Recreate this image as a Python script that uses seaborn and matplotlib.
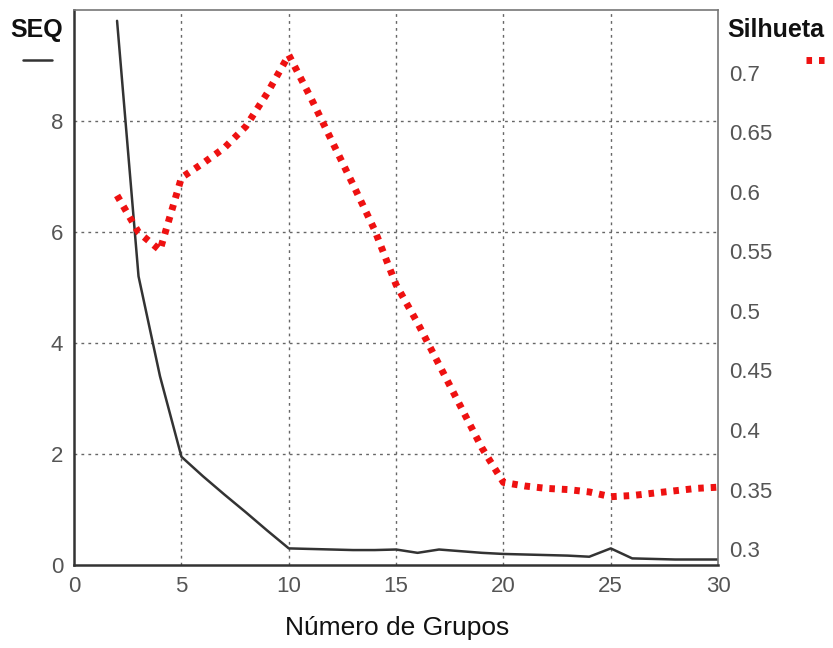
import numpy as np
import pandas as pd
import matplotlib
matplotlib.use("Agg")
import matplotlib.pyplot as plt
import seaborn as sns
from matplotlib.lines import Line2D

grupos = list(range(2, 31))
seq = [9.8, 5.2, 3.4, 1.95, 1.6, 1.27, 0.95, 0.62, 0.3,
       0.29, 0.28, 0.27, 0.27, 0.28, 0.22, 0.28, 0.25, 0.22, 0.2,
       0.19, 0.18, 0.17, 0.15, 0.3, 0.12, 0.11, 0.1, 0.1, 0.1]
silhueta = [0.597, 0.566, 0.551, 0.612, 0.624, 0.637, 0.655, 0.683, 0.715,
            0.68, 0.643, 0.606, 0.568, 0.522, 0.49, 0.455, 0.42, 0.385, 0.356,
            0.353, 0.351, 0.35, 0.348, 0.344, 0.345, 0.347, 0.349, 0.351, 0.352]
x_ticks = [0, 5, 10, 15, 20, 25, 30]
y_left_ticks = [0, 2, 4, 6, 8]
y_right_ticks = [0.3, 0.35, 0.4, 0.45, 0.5, 0.55, 0.6, 0.65, 0.7]

df = pd.DataFrame({"grupos": grupos, "seq": seq, "silhueta": silhueta})

sns.set_theme(style="white")
plt.rcParams['font.family'] = ['Liberation Sans', 'DejaVu Sans']

fig = plt.figure(figsize=(8.33, 6.48), dpi=100)
ax = fig.add_axes([0.089, 0.128, 0.773, 0.857])
sns.lineplot(data=df, x="grupos", y="seq", ax=ax, color="#333333", lw=1.8)
ax.set_xlim(0, 30)
ax.set_ylim(0, 10)
ax.set_xticks(x_ticks)
ax.set_yticks(y_left_ticks)
ax.set_xlabel("")
ax.set_ylabel("")
ax.tick_params(axis="both", labelsize=16, colors="#555555", length=0, pad=8)
for v in [5, 10, 15, 20, 25]:
    ax.axvline(v, color="#666666", lw=1, ls=(0, (2, 3)), zorder=0)
for v in [2, 4, 6, 8]:
    ax.axhline(v, color="#666666", lw=1, ls=(0, (2, 3)), zorder=0)
for s in ["left", "bottom"]:
    ax.spines[s].set_color("#333333")
    ax.spines[s].set_linewidth(1.8)
for s in ["top", "right"]:
    ax.spines[s].set_color("#777777")
    ax.spines[s].set_linewidth(1.2)

ax2 = ax.twinx()
sns.lineplot(data=df, x="grupos", y="silhueta", ax=ax2, color="#ee1111",
             lw=5, ls=(0, (0.8, 1.0)))
ax2.set_ylim(0.2866, 0.753)
ax2.set_yticks(y_right_ticks)
ax2.set_yticklabels([f"{v:g}" for v in y_right_ticks])
ax2.set_ylabel("")
ax2.tick_params(axis="y", labelsize=16, colors="#555555", length=0, pad=8)
for s in ax2.spines.values():
    s.set_visible(False)

fig.text(0.477, 0.012, "Número de Grupos", ha="center", va="bottom", fontsize=19, color="#111111")
fig.text(0.012, 0.935, "SEQ", ha="left", va="bottom", fontsize=18, color="#111111", fontweight="bold")
fig.add_artist(Line2D([0.028, 0.062], [0.908, 0.908], color="#333333", lw=1.8))
fig.text(0.873, 0.935, "Silhueta", ha="left", va="bottom", fontsize=18, color="#111111", fontweight="bold")
fig.add_artist(Line2D([0.968, 0.990], [0.908, 0.908], color="#ee1111", lw=5, ls=(0, (0.8, 1.0))))

fig.savefig("out.png", dpi=100)
